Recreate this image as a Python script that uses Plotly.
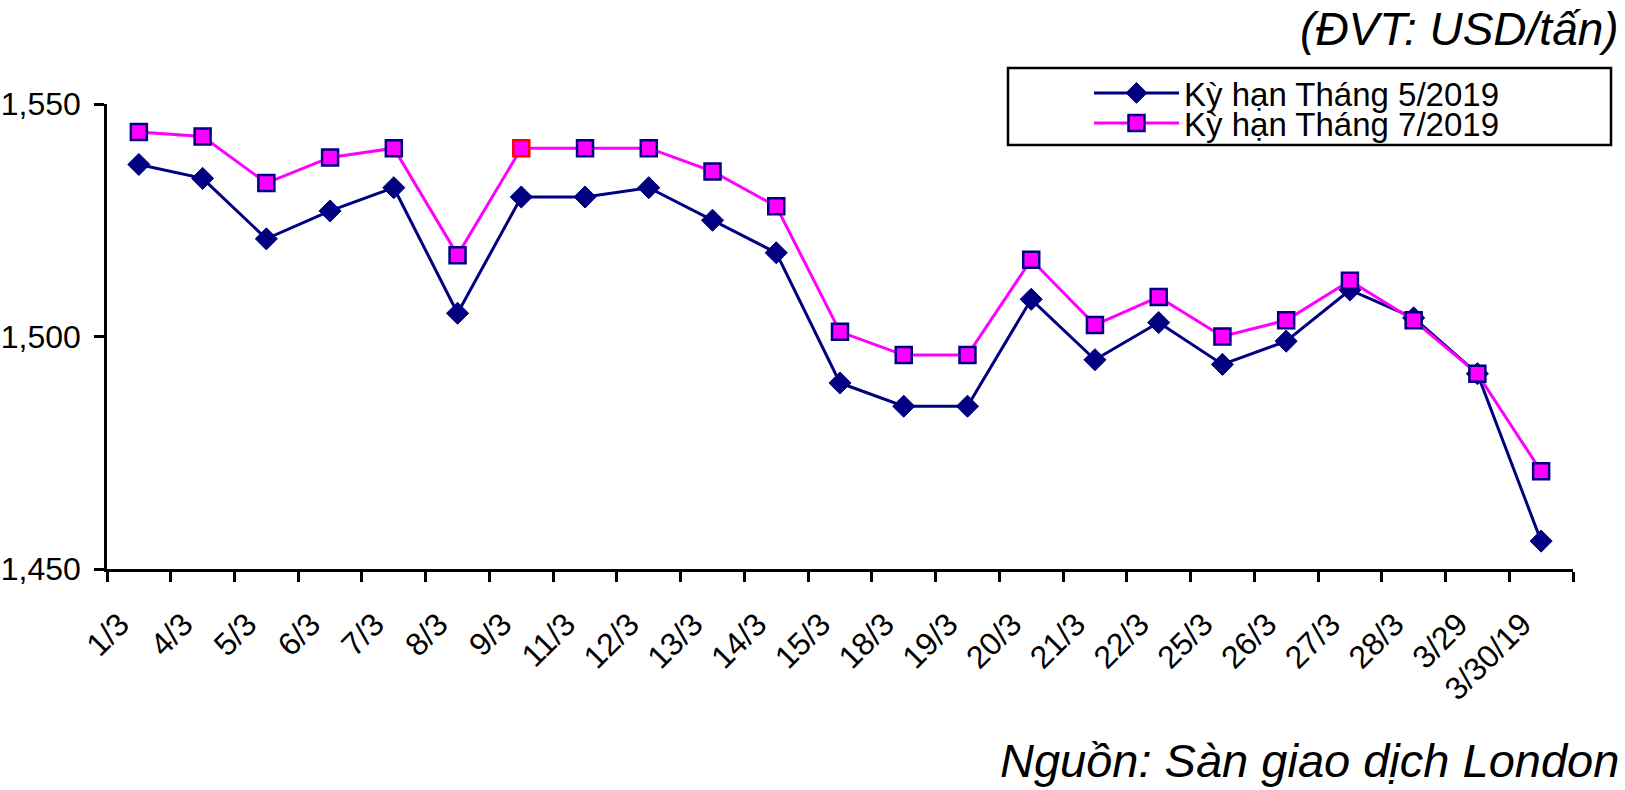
import plotly.graph_objects as go

categories = ["1/3", "4/3", "5/3", "6/3", "7/3", "8/3", "9/3", "11/3", "12/3", "13/3",
              "14/3", "15/3", "18/3", "19/3", "20/3", "21/3", "22/3", "25/3", "26/3",
              "27/3", "28/3", "3/29", "3/30/19"]
may_2019 = [1537, 1534, 1521, 1527, 1532, 1505, 1530, 1530, 1532, 1525, 1518, 1490,
            1485, 1485, 1508, 1495, 1503, 1494, 1499, 1510, 1504, 1492, 1456]
jul_2019 = [1544, 1543, 1533, 1538.5, 1540.5, 1517.5, 1540.5, 1540.5, 1540.5, 1535.5,
            1528, 1501, 1496, 1496, 1516.5, 1502.5, 1508.5, 1500, 1503.5, 1512, 1503.5,
            1492, 1471]
series_names = ["Kỳ hạn Tháng 5/2019", "Kỳ hạn Tháng 7/2019"]

NAVY = "#000080"
MAGENTA = "#FF00FF"
FONT = "Liberation Sans, Arial, sans-serif"

sq_border = [NAVY] * len(categories)
sq_border[categories.index("9/3")] = "#FF0000"

fig = go.Figure()
fig.add_trace(go.Scatter(
    x=categories, y=may_2019, name=series_names[0], mode="lines+markers",
    line=dict(color=NAVY, width=3),
    marker=dict(symbol="diamond", size=17, color=NAVY, line=dict(color=NAVY, width=1)),
    cliponaxis=False, legend="legend",
))
fig.add_trace(go.Scatter(
    x=categories, y=jul_2019, name=series_names[1], mode="lines+markers",
    line=dict(color=MAGENTA, width=3),
    marker=dict(symbol="square", size=16, color=MAGENTA, line=dict(color=sq_border, width=2.5)),
    cliponaxis=False, legend="legend2",
))

L, R, T, B = 107, 52, 104, 221
W, H = 1625, 790
pw = W - L - R
ph = H - T - B

def px(xpix):
    return (xpix - L) / pw

def py(ypix):
    return (H - B - ypix) / ph

leg_common = dict(
    xanchor="left", yanchor="middle",
    bgcolor="rgba(0,0,0,0)", borderwidth=0,
    font=dict(family=FONT, size=33, color="black"),
    itemwidth=85,
)

fig.update_layout(
    width=W, height=H,
    margin=dict(l=L, r=R, t=T, b=B, pad=0, autoexpand=False),
    paper_bgcolor="white", plot_bgcolor="white",
    font=dict(family=FONT, color="black", size=32),
    showlegend=True,
    legend=dict(x=px(1089), y=py(93), **leg_common),
    legend2=dict(x=px(1089), y=py(123), **leg_common),
    xaxis=dict(
        type="category", range=[-0.5, len(categories) - 0.5], automargin=False,
        showline=True, linecolor="black", linewidth=2.5,
        ticks="outside", tickson="boundaries", ticklen=10, tickwidth=2.5, tickcolor="black",
        tickangle=-45, tickfont=dict(family=FONT, size=32, color="black"),
        showgrid=False, zeroline=False, ticklabelstandoff=21, ticklabelshift=-19,
    ),
    yaxis=dict(
        range=[1450, 1550], tickvals=[1450, 1500, 1550], tickformat=",d", automargin=False,
        showline=True, linecolor="black", linewidth=2.5,
        ticks="outside", ticklen=10, tickwidth=2.5, tickcolor="black",
        tickfont=dict(family=FONT, size=32, color="black"),
        showgrid=False, zeroline=False, ticklabelstandoff=7,
    ),
    shapes=[dict(
        type="rect", xref="paper", yref="paper",
        x0=px(1008), x1=px(1611), y0=py(145), y1=py(68),
        line=dict(color="black", width=2.5), fillcolor="rgba(0,0,0,0)", layer="above",
    )],
    annotations=[
        dict(text="<i>(ĐVT: USD/tấn)</i>", xref="paper", yref="paper",
             x=px(1621), y=py(29), xanchor="right", yanchor="middle",
             showarrow=False, font=dict(family=FONT, size=46, color="black")),
        dict(text="<i>Nguồn: Sàn giao dịch London</i>", xref="paper", yref="paper",
             x=px(1621), y=py(760), xanchor="right", yanchor="middle",
             showarrow=False, font=dict(family=FONT, size=47, color="black")),
    ],
)

fig.write_html(
    "out.html",
    config={"displayModeBar": False},
    post_script="document.body.style.margin='0';document.body.style.overflow='hidden';",
)
